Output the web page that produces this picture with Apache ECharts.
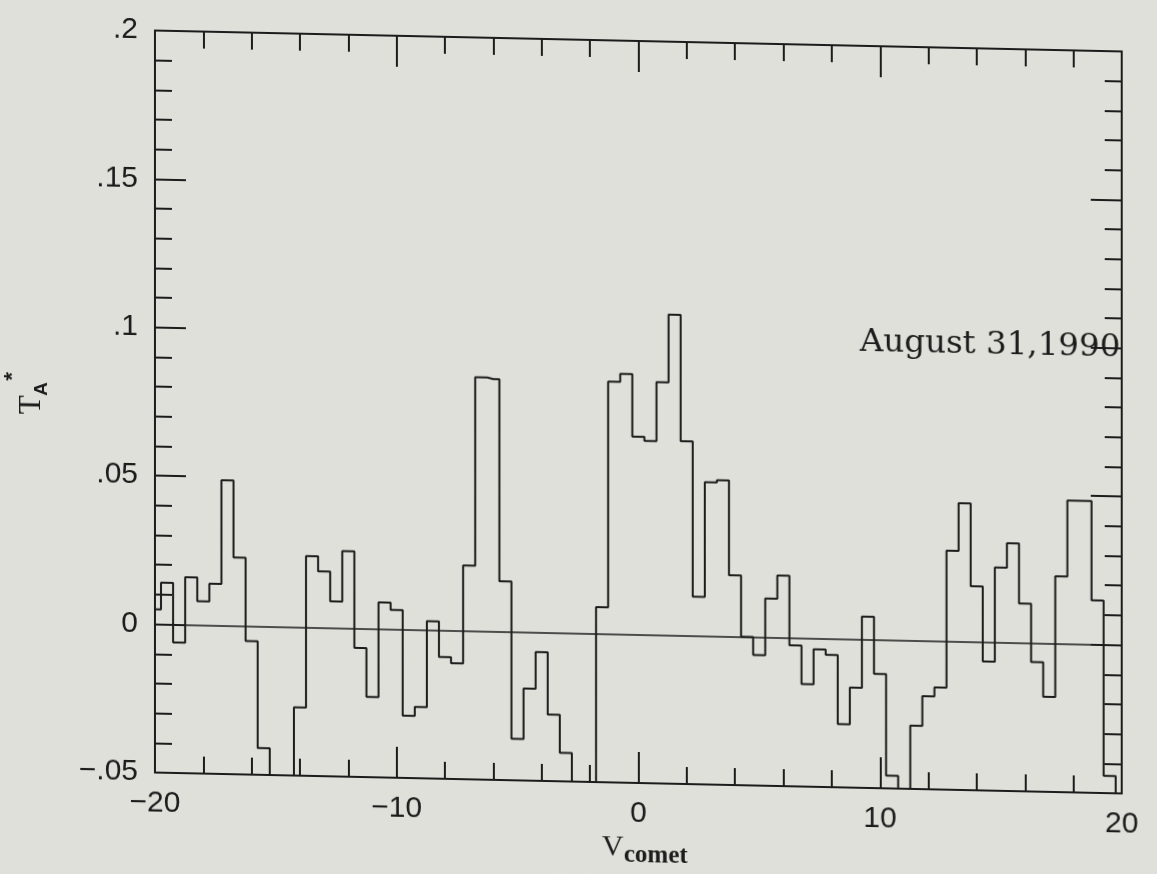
<!DOCTYPE html>
<html>
<head>
<meta charset="utf-8">
<title>August 31, 1990 spectrum</title>
<script src="https://cdn.jsdelivr.net/npm/echarts/dist/echarts.min.js"></script>
<style>
  html, body { margin: 0; padding: 0; background: #dfe0d9; overflow: hidden; }
  /* the plotted sheet sits slightly askew on the page */
  #chart {
    width: 1157px; height: 874px;
    transform-origin: 638.5px 437px;
    transform: skewY(1.24deg);
  }
</style>
</head>
<body>
<div id="chart"></div>
<script>
// Channel centre velocities (km/s, comet rest frame)
const velocity = [
  -20, -19.5, -19, -18.5, -18, -17.5, -17, -16.5, -16, -15.5,
  -15, -14.5, -14, -13.5, -13, -12.5, -12, -11.5, -11, -10.5,
  -10, -9.5, -9, -8.5, -8, -7.5, -7, -6.5, -6, -5.5,
  -5, -4.5, -4, -3.5, -3, -2.5, -2, -1.5, -1, -0.5,
  0, 0.5, 1, 1.5, 2, 2.5, 3, 3.5, 4, 4.5,
  5, 5.5, 6, 6.5, 7, 7.5, 8, 8.5, 9, 9.5,
  10, 10.5, 11, 11.5, 12, 12.5, 13, 13.5, 14, 14.5,
  15, 15.5, 16, 16.5, 17, 17.5, 18, 18.5, 19, 19.5,
  20
];

// Antenna temperature T_A* (K) per channel; channels below -0.05 run off the plot
const antennaTemp = [
  0.005, 0.014, -0.006, 0.016, 0.008, 0.014, 0.049, 0.023, -0.005, -0.041,
  -0.06, -0.06, -0.027, 0.024, 0.019, 0.009, 0.026, -0.0065, -0.023, 0.009,
  0.0065, -0.029, -0.026, 0.003, -0.009, -0.011, 0.022, 0.0855, 0.085, 0.017,
  -0.036, -0.019, -0.0066, -0.0276, -0.0404, -0.06, -0.06, 0.009, 0.085, 0.0877,
  0.0667, 0.0653, 0.0852, 0.108, 0.0655, 0.0132, 0.0518, 0.0526, 0.0207, 0.0,
  -0.006, 0.0131, 0.0209, -0.0025, -0.0155, -0.0037, -0.0054, -0.0287, -0.0163, 0.0077,
  -0.0115, -0.0457, -0.06, -0.0287, -0.0187, -0.0156, 0.0305, 0.0466, 0.0187, -0.0065,
  0.0252, 0.0335, 0.0133, -0.0064, -0.018, 0.0227, 0.0483, 0.0483, 0.0149, -0.0442,
  -0.06
];

const xRange = [-20, 20];
const xStep = 10;
const yRange = [-0.05, 0.2];
const yStep = 0.05;
const baseline = 0;
const dateLabel = 'August 31,1990';

const ink = '#1c1c1c';
const paper = '#dfe0d9';

function fmtX(v) {
  return v < 0 ? '\u2212' + Math.abs(v) : String(v);
}
function fmtY(v) {
  const r = Math.round(v * 1000) / 1000;
  if (r === 0) return '0';
  const s = String(Math.abs(r)).replace(/^0/, '');
  return (r < 0 ? '\u2212' : '') + s;
}

function frameAxis(kind, pos, showLabels) {
  const isX = kind === 'x';
  return {
    type: 'value',
    position: pos,
    min: isX ? xRange[0] : yRange[0],
    max: isX ? xRange[1] : yRange[1],
    interval: isX ? xStep : yStep,
    splitLine: { show: false },
    axisLine: { show: true, onZero: false, lineStyle: { color: ink, width: 2 } },
    axisTick: { show: true, inside: true, length: 31, lineStyle: { color: ink, width: 2 } },
    minorTick: { show: true, splitNumber: 5, length: 17, lineStyle: { color: ink, width: 2 } },
    axisLabel: {
      show: showLabels,
      formatter: isX ? fmtX : fmtY,
      fontFamily: 'Liberation Sans',
      fontSize: 30,
      color: ink,
      margin: isX ? 16 : 17
    }
  };
}

const chart = echarts.init(document.getElementById('chart'), null, { renderer: 'canvas' });

chart.setOption({
  backgroundColor: paper,
  animation: false,
  grid: { left: 155, right: 35, top: 41, bottom: 91 },
  xAxis: [frameAxis('x', 'bottom', true), frameAxis('x', 'top', false)],
  yAxis: [frameAxis('y', 'left', true), frameAxis('y', 'right', false)],
  series: [{
    type: 'line',
    xAxisIndex: 0,
    yAxisIndex: 0,
    step: 'middle',
    showSymbol: false,
    symbol: 'none',
    clip: true,
    data: velocity.map((v, i) => [v, antennaTemp[i]]),
    lineStyle: { color: ink, width: 2 },
    markLine: {
      silent: true,
      symbol: 'none',
      label: { show: false },
      lineStyle: { color: ink, width: 1.6, type: 'solid' },
      data: [{ yAxis: baseline }]
    }
  }],
  graphic: [
    {
      type: 'text',
      left: 860,
      top: 321,
      style: { text: dateLabel, font: '32.5px "DejaVu Serif"', fill: ink }
    },
    {
      type: 'group',
      x: 0, y: 0,
      children: [
        { type: 'text', x: 602, y: 833, style: { text: 'V', font: '30px "Liberation Serif"', fill: ink } },
        { type: 'text', x: 624, y: 843, style: { text: 'comet', font: 'bold 25px "Liberation Serif"', fill: ink } }
      ]
    },
    {
      type: 'group',
      x: 32,
      y: 418,
      rotation: Math.PI / 2,
      children: [
        { type: 'text', x: 0, y: 0, style: { text: 'T', font: '31px "Liberation Serif"', fill: ink, textAlign: 'center', textVerticalAlign: 'middle' } },
        { type: 'text', x: 16, y: 10, style: { text: 'A', font: 'bold 19px "Liberation Sans"', fill: ink, textAlign: 'center', textVerticalAlign: 'middle' } },
        { type: 'text', x: 28, y: -19, style: { text: '*', font: 'bold 22px "Liberation Sans"', fill: ink, textAlign: 'center', textVerticalAlign: 'middle' } }
      ]
    }
  ]
});
</script>
</body>
</html>
